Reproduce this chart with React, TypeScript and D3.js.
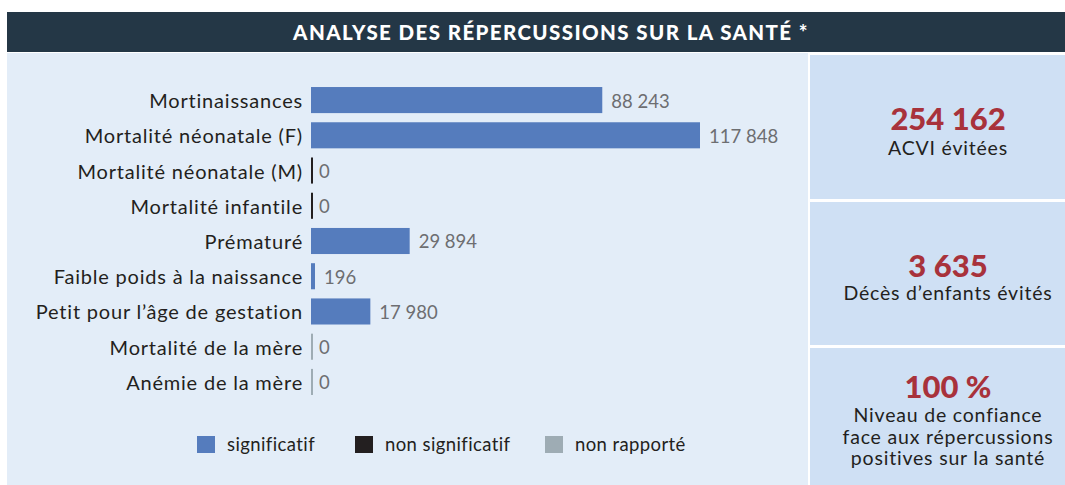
import * as d3 from "d3";
import React from "react";

// Bar chart data
const categories = [
  "Mortinaissances",
  "Mortalité néonatale (F)",
  "Mortalité néonatale (M)",
  "Mortalité infantile",
  "Prématuré",
  "Faible poids à la naissance",
  "Petit pour l’âge de gestation",
  "Mortalité de la mère",
  "Anémie de la mère",
];
const values = [88243, 117848, 0, 0, 29894, 196, 17980, 0, 0];
// sig = significatif, ns = non significatif, nr = non rapporté
const statuses = ["sig", "sig", "ns", "ns", "sig", "sig", "sig", "nr", "nr"];

const legendKeys = ["sig", "ns", "nr"];
const legendLabels = ["significatif", "non significatif", "non rapporté"];

// Side panel figures
const kpiValues = ["254 162", "3 635", "100 %"];
const kpiLabels = [
  ["ACVI évitées"],
  ["Décès d’enfants évités"],
  ["Niveau de confiance", "face aux répercussions", "positives sur la santé"],
];

const TITLE = "ANALYSE DES RÉPERCUSSIONS SUR LA SANTÉ *";

const W = 1065;
const H = 485;
const FONT = "Lato, 'Open Sans', sans-serif";

const colorScale = d3
  .scaleOrdinal<string>()
  .domain(legendKeys)
  .range(["#557cbd", "#231f20", "#9eacb4"]);

const fr = d3.formatLocale({
  decimal: ",",
  thousands: " ",
  grouping: [3],
  currency: ["", " €"],
});
const fmt = fr.format(",d");

export default function App() {
  const x = d3
    .scaleLinear()
    .domain([0, d3.max(values)!])
    .range([311, 700]);

  const y = d3
    .scaleBand<string>()
    .domain(categories)
    .range([83.5, 398.5])
    .paddingInner(0.26)
    .paddingOuter(0.1);

  const bw = y.bandwidth();

  const bars = categories.map((cat, i) => {
    const v = values[i];
    const st = statuses[i];
    const y0 = y(cat)!;
    const cy = y0 + bw / 2 + 1;
    let end: number;
    let mark: React.ReactNode;
    if (v === 0) {
      end = x(0) + 2;
      mark = (
        <rect x={x(0)} y={y0} width={2} height={bw} fill={colorScale(st)} />
      );
    } else {
      end = Math.max(x(v), x(0) + 4);
      mark = (
        <rect x={x(0)} y={y0} width={end - x(0)} height={bw} fill={colorScale(st)} />
      );
    }
    return (
      <g key={cat}>
        <text
          x={303}
          y={cy}
          dy="0.35em"
          textAnchor="end"
          fontSize={20}
          letterSpacing={0.8}
          fill="#231f20"
        >
          {cat}
        </text>
        {mark}
        <text
          x={end + (v === 0 ? 6 : 9)}
          y={cy}
          dy="0.35em"
          fontSize={18.5}
          fill="#6d6e71"
        >
          {fmt(v)}
        </text>
      </g>
    );
  });

  const legendX = [197, 355, 545];
  const legend = legendKeys.map((k, i) => (
    <g key={k} transform={`translate(${legendX[i]}, 436)`}>
      <rect width={18} height={17} fill={colorScale(k)} />
      <text x={30} y={9} dy="0.35em" fontSize={18.5} letterSpacing={0.4} fill="#231f20">
        {legendLabels[i]}
      </text>
    </g>
  ));

  // right panel boxes
  const boxes = [
    { y0: 55, y1: 199, vy: 130, ly: 155 },
    { y0: 202, y1: 345, vy: 277, ly: 300 },
    { y0: 348, y1: 485, vy: 398, ly: 422 },
  ];

  return (
    <>
      <style>{`body{margin:0;}`}</style>
      <svg width={W} height={H} style={{ display: "block", fontFamily: FONT }}>
        <rect width={W} height={H} fill="#ffffff" />
        {/* header */}
        <rect x={7} y={12} width={W - 7} height={40} fill="#243746" />
        <text
          x={551}
          y={33}
          dy="0.35em"
          textAnchor="middle"
          fill="#ffffff"
          fontSize={20.5}
          fontWeight={900}
          letterSpacing={1.4}
        >
          {TITLE}
        </text>

        {/* left panel */}
        <rect x={7} y={53} width={801} height={H - 53} fill="#e3edf8" />
        {bars}
        {legend}

        {/* right panel */}
        {boxes.map((b, i) => (
          <g key={i}>
            <rect x={810} y={b.y0} width={W - 810} height={b.y1 - b.y0} fill="#cfe0f4" />
            <text
              x={948}
              y={b.vy}
              textAnchor="middle"
              fontSize={31}
              fontWeight={900}
              fill="#a8323b"
            >
              {kpiValues[i]}
            </text>
            {kpiLabels[i].map((l, j) => (
              <text
                key={j}
                x={948}
                y={b.ly + j * 21.5}
                textAnchor="middle"
                fontSize={19.5}
                letterSpacing={0.8}
                fill="#231f20"
              >
                {l}
              </text>
            ))}
          </g>
        ))}
      </svg>
    </>
  );
}
